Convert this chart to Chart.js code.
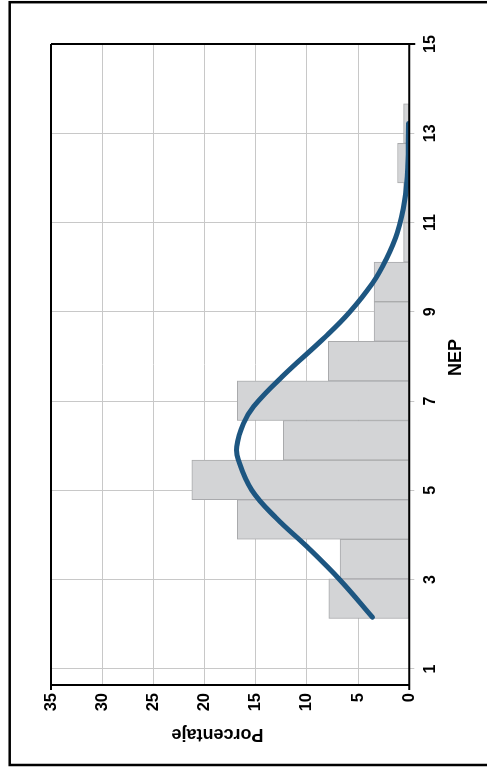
<!DOCTYPE html>
<html lang="es">
<head>
<meta charset="utf-8">
<title>Distribución de NEP</title>
<script src="https://cdn.jsdelivr.net/npm/chart.js@4.4.1/dist/chart.umd.min.js"></script>
<style>
  html, body { margin: 0; padding: 0; background: #ffffff; overflow: hidden; }
  body { width: 487px; height: 771px; position: relative; }
  /* the chart is laid out landscape and turned a quarter turn counter-clockwise */
  #frame {
    position: absolute; left: 0; top: 0;
    width: 771px; height: 487px;
    transform-origin: 0 0;
    transform: translate(0, 771px) rotate(-90deg);
  }
  canvas { display: block; }
</style>
</head>
<body>
<div id="frame"><canvas id="chart" width="771" height="487"></canvas></div>
<script>
// Histogram bins (centre of each NEP class) and the share of cases in each, in %
const nepBins = [2.574, 3.461, 4.348, 5.235, 6.122, 7.009, 7.896, 8.783, 9.670, 10.557, 11.444, 12.331, 13.218];
const porcentaje = [7.85, 6.75, 16.8, 21.25, 12.3, 16.8, 7.9, 3.45, 3.45, 0.55, 0.55, 1.15, 0.55];

// Fitted normal curve, sampled along NEP
const curveNep = [2.16, 2.99, 3.74, 4.38, 5.01, 5.68, 5.98, 6.50, 6.88, 7.55, 8.44, 9.00, 9.64, 10.16, 10.76, 11.51, 12.25, 13.22];
const curvePct = [3.6, 6.75, 10.0, 13.0, 15.4, 16.7, 16.85, 16.2, 15.2, 12.4, 8.2, 5.8, 3.6, 2.3, 1.2, 0.45, 0.15, 0.08];

// Axis tick values
const nepTicks = [1, 3, 5, 7, 9, 11, 13, 15];
const pctTicks = [0, 5, 10, 15, 20, 25, 30, 35];

const FONT = "'Liberation Sans', Arial, Helvetica, sans-serif";
const GRID = '#c8c8c8';

// Plot frame, its small overhangs, the outer box and the axis titles
const decorations = {
  id: 'decorations',
  afterDatasetsDraw(chart) {
    const { ctx, chartArea: a } = chart;
    ctx.save();
    ctx.strokeStyle = '#000';
    ctx.lineWidth = 2;
    ctx.beginPath();
    ctx.moveTo(a.left - 5, a.top); ctx.lineTo(a.right, a.top);
    ctx.moveTo(a.left - 5, a.bottom); ctx.lineTo(a.right, a.bottom);
    ctx.moveTo(a.left, a.top); ctx.lineTo(a.left, a.bottom);
    ctx.moveTo(a.right, a.top); ctx.lineTo(a.right, a.bottom + 6);
    ctx.stroke();
    ctx.restore();
  },
  afterDraw(chart) {
    const { ctx } = chart;
    ctx.save();
    ctx.strokeStyle = '#000';
    ctx.lineWidth = 2.5;
    ctx.strokeRect(6, 9.7, 762.8, 600);

    ctx.fillStyle = '#000';
    ctx.font = 'bold 18px ' + FONT;
    ctx.textAlign = 'center';
    ctx.textBaseline = 'alphabetic';
    ctx.fillText('NEP', 413.5, 461);

    ctx.translate(42, 217.5);
    ctx.rotate(-Math.PI / 2);
    ctx.fillText('Porcentaje', 0, 0);
    ctx.restore();
  }
};

new Chart(document.getElementById('chart'), {
  type: 'bar',
  data: {
    datasets: [
      {
        type: 'line',
        order: 0,
        data: curveNep.map((x, i) => ({ x, y: curvePct[i] })),
        borderColor: '#1d5681',
        borderWidth: 5,
        borderCapStyle: 'round',
        borderJoinStyle: 'round',
        pointRadius: 0,
        fill: false,
        tension: 0.4
      },
      {
        type: 'bar',
        order: 1,
        data: nepBins.map((x, i) => ({ x, y: porcentaje[i] })),
        backgroundColor: '#d3d4d6',
        borderColor: '#a9aaac',
        borderWidth: 1,
        borderSkipped: false,
        barPercentage: 1,
        categoryPercentage: 1,
        grouped: false
      }
    ]
  },
  options: {
    responsive: false,
    animation: false,
    devicePixelRatio: 1,
    layout: { padding: { top: 51, right: 44, left: 0, bottom: 0 } },
    plugins: { legend: { display: false }, tooltip: { enabled: false } },
    scales: {
      x: {
        type: 'linear',
        min: 0.64,
        max: 15,
        offset: false,
        afterBuildTicks: s => { s.ticks = nepTicks.map(v => ({ value: v })); },
        afterFit: s => { s.height = 77.7; },
        grid: { color: GRID, lineWidth: 1, offset: false, drawTicks: true, tickLength: 5, tickColor: GRID },
        border: { display: false },
        ticks: {
          color: '#000',
          padding: 7,
          maxRotation: 0,
          autoSkip: false,
          font: { family: FONT, size: 16, weight: 'bold' }
        }
      },
      y: {
        min: 0,
        max: 35,
        afterBuildTicks: s => { s.ticks = pctTicks.map(v => ({ value: v })); },
        afterFit: s => { s.width = 86; },
        grid: { color: GRID, lineWidth: 1, drawTicks: false },
        border: { display: false },
        ticks: {
          color: '#000',
          padding: 8,
          font: { family: FONT, size: 16.5, weight: 'bold' }
        }
      }
    }
  },
  plugins: [decorations]
});
</script>
</body>
</html>
